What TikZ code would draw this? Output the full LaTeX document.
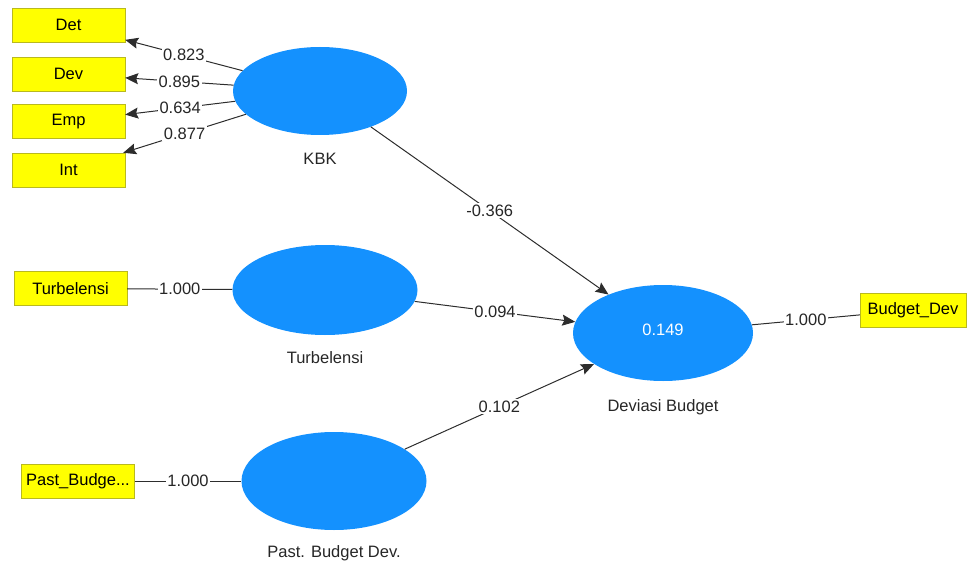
\documentclass[tikz,border=0pt]{standalone}
\usepackage{fontspec}
\setmainfont{Liberation Sans}
\usetikzlibrary{arrows.meta, positioning, shapes.geometric}

\definecolor{lvblue}{RGB}{20,145,254}
\definecolor{mvyellow}{RGB}{255,255,0}
\definecolor{mvborder}{RGB}{185,185,30}
\definecolor{linkgray}{RGB}{45,45,45}

\begin{document}
\begin{tikzpicture}[
  x=1pt, y=-1pt,
  font=\fontsize{16.5}{19}\selectfont,
  item/.style={draw=mvborder, fill=mvyellow, minimum width=113pt, minimum height=34pt, inner sep=0pt},
  latent/.style={ellipse, fill=lvblue, inner sep=0pt, text=white},
  lvname/.style={text=black!85},
  coef/.style={fill=white, inner sep=1.5pt, text=black!85},
  link/.style={draw=linkgray, line width=1pt},
  arrow/.style={link, -{Stealth[length=13pt, width=11pt, inset=2pt]}}
]
\useasboundingbox (0,0) rectangle (968,564);

\node[latent, minimum width=174pt, minimum height=88pt] (kbk) at (320,91) {};
\node[latent, minimum width=185pt, minimum height=90pt] (turb) at (325,290) {};
\node[latent, minimum width=185pt, minimum height=98pt] (past) at (334,481) {};
\node[latent, minimum width=180pt, minimum height=96pt] (dev) at (663,333) {\raisebox{6pt}{0.149}};

\node[lvname, below=14pt of kbk] (kbkname) {KBK};
\node[lvname, below=13pt of turb] (turbname) {Turbelensi};
\node[lvname, below=12pt of past] (pastname) {Past. Budget Dev.};
\node[lvname, below=15pt of dev] (devname) {Deviasi Budget};

\node[item] (det) at (68.5,25) {Det};
\node[item] (devi) at (68.5,74) {Dev};
\node[item] (emp) at (68.5,121.5) {Emp};
\node[item] (int) at (68.5,170) {Int};
\node[item] (turbi) at (70.5,288.5) {Turbelensi};
\node[item] (pasti) at (78,481) {Past\_Budge...};
\node[item, minimum width=106pt] (budi) at (913,310) {Budget\_Dev};

\draw[arrow] (kbk) -- node[coef] {0.823} (det);
\draw[arrow] (kbk) -- node[coef] {0.895} (devi);
\draw[arrow] (kbk) -- node[coef] {0.634} (emp);
\draw[arrow] (kbk) -- node[coef] {0.877} (int);

\draw[link] (turbi) -- node[coef] {1.000} (turb);
\draw[link] (pasti) -- node[coef] {1.000} (past);
\draw[link] (dev) -- node[coef] {1.000} (budi);

\draw[arrow] (kbk) -- node[coef] {-0.366} (dev);
\draw[arrow] (turb) -- node[coef] {0.094} (dev);
\draw[arrow] (past) -- node[coef] {0.102} (dev);

\end{tikzpicture}
\end{document}
